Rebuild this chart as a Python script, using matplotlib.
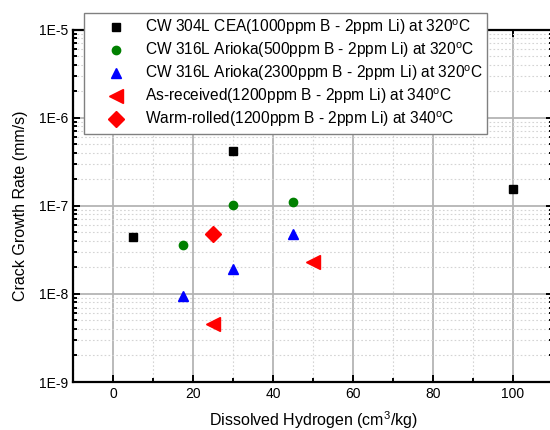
"""Crack growth rate vs dissolved hydrogen."""

import matplotlib
matplotlib.use('Agg')
import matplotlib.pyplot as plt
import matplotlib.ticker as mticker
import numpy as np

plt.rcParams['font.family'] = ['Liberation Sans', 'DejaVu Sans']
plt.rcParams['mathtext.default'] = 'regular'


# ================================ DATA ======================================

cea_304_h = [5, 30, 100]
cea_304_cgr = [4.4e-8, 4.15e-7, 1.56e-7]

arioka_500_h = [17.5, 30, 45]
arioka_500_cgr = [3.57e-8, 1.02e-7, 1.11e-7]

arioka_2300_h = [17.5, 30, 45]
arioka_2300_cgr = [9.5e-9, 1.9e-8, 4.76e-8]

as_received_h = [25, 50]
as_received_cgr = [4.5e-9, 2.31e-8]

warm_rolled_h = [25]
warm_rolled_cgr = [4.73e-8]

labels = [
    'CW 304L CEA(1000ppm B - 2ppm Li) at 320$^{o}$C',
    'CW 316L Arioka(500ppm B - 2ppm Li) at 320$^{o}$C',
    'CW 316L Arioka(2300ppm B - 2ppm Li) at 320$^{o}$C',
    'As-received(1200ppm B - 2ppm Li) at 340$^{o}$C',
    'Warm-rolled(1200ppm B - 2ppm Li) at 340$^{o}$C',
]

y_ticks = [1e-9, 1e-8, 1e-7, 1e-6, 1e-5]
y_tick_labels = ['1E-9', '1E-8', '1E-7', '1E-6', '1E-5']


# ================================ PLOT ======================================

fig = plt.figure(figsize=(5.5, 4.3), dpi=100)
ax = fig.add_axes([73 / 550, 1 - 382 / 430, 480 / 550, 352.5 / 430])

ax.plot(cea_304_h, cea_304_cgr, 's', color='black', ms=5.5, label=labels[0])
ax.plot(arioka_500_h, arioka_500_cgr, 'o', color='#008000', ms=6, label=labels[1])
ax.plot(arioka_2300_h, arioka_2300_cgr, '^', color='#0000ff', ms=7, label=labels[2])
ax.plot(as_received_h, as_received_cgr, '<', color='#ff0000', ms=10, label=labels[3])
ax.plot(warm_rolled_h, warm_rolled_cgr, 'D', color='#ff0000', ms=8, label=labels[4])

ax.set_yscale('log')
ax.set_xlim(-10, 110)
ax.set_ylim(1e-9, 1e-5)

ax.set_yticks(y_ticks)
ax.set_yticklabels(y_tick_labels)
ax.yaxis.set_minor_locator(mticker.LogLocator(base=10, subs=np.arange(2, 10)))
ax.yaxis.set_minor_formatter(mticker.NullFormatter())

ax.xaxis.set_major_locator(mticker.MultipleLocator(20))
ax.xaxis.set_minor_locator(mticker.MultipleLocator(10))

ax.grid(which='major', color='#b4b4b4', lw=1.3, ls='-')
ax.grid(which='minor', color='#d4d4d4', lw=0.8, ls=(0, (1.5, 2)))
ax.set_axisbelow(True)

for side in ax.spines.values():
    side.set_linewidth(1.6)

ax.tick_params(which='both', direction='in', top=True, right=True, labelsize=10,
               width=1.4)
ax.tick_params(which='major', length=5)
ax.tick_params(which='minor', length=3)

ax.set_xlabel('Dissolved Hydrogen (cm$^3$/kg)', fontsize=11.5, labelpad=6)
ax.set_ylabel('Crack Growth Rate (mm/s)', fontsize=11.5, labelpad=8)

leg = ax.legend(loc='upper left', bbox_to_anchor=(84 / 550, 1 - 13 / 430),
                bbox_transform=fig.transFigure, fontsize=11.2, frameon=True,
                fancybox=False, framealpha=1, edgecolor='#808080',
                borderpad=0.3, labelspacing=0.22, handletextpad=0.1,
                handlelength=3.5, borderaxespad=0)
leg.get_frame().set_linewidth(1.0)


# ================================ FINAL =====================================

fig.savefig('out.png', dpi=100)
